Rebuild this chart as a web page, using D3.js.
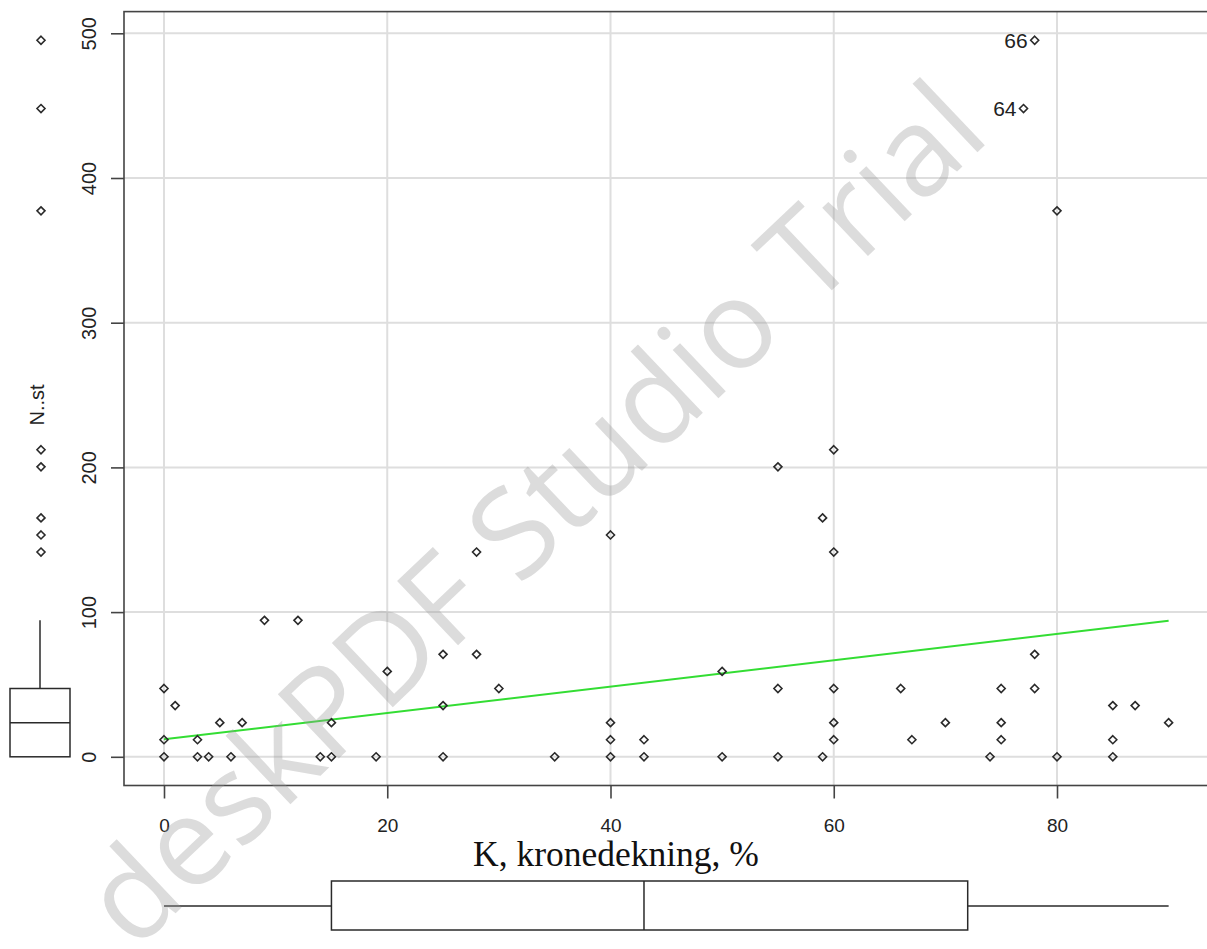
<!DOCTYPE html>
<html>
<head>
<meta charset="utf-8">
<script src="https://cdn.jsdelivr.net/npm/d3@7"></script>
<style>
  html, body { margin: 0; padding: 0; background: #fff; }
  svg { display: block; }
</style>
</head>
<body>
<div id="chart"></div>
<script>
// ---------------- data ----------------
const kronedekning = [0,0,0,1,3,3,4,5,6,7,9,12,14,15,15,19,20,25,25,25,28,28,30,35,40,40,40,40,43,43,50,50,55,55,55,59,59,60,60,60,60,60,66,67,70,74,75,75,75,78,78,78,77,80,80,85,85,85,87,90];
const nst = [47.2,11.8,0,35.4,11.8,0,0,23.6,0,23.6,94.3,94.3,0,23.6,0,0,59.0,70.8,35.4,0,141.5,70.8,47.2,0,153.3,23.6,11.8,0,11.8,0,59.0,0,200.4,47.2,0,165.1,0,212.2,141.5,47.2,23.6,11.8,47.2,11.8,23.6,0,47.2,23.6,11.8,70.8,47.2,495.2,448.0,377.3,0,35.4,11.8,0,35.4,23.6];
const pointIds = [1,2,3,4,5,6,7,8,9,10,11,12,13,14,15,16,17,18,19,20,21,22,23,24,25,26,27,28,29,30,31,32,33,34,35,36,37,38,39,40,41,42,43,44,45,46,47,48,49,50,51,66,64,53,54,55,56,57,58,59];
const labelledIds = [66, 64];
const fitCoef = [12.1, 0.91];          // intercept, slope of regression line
const fitRange = [0, 90];
const nstBox = [0, 0, 23.6, 47.2, 94.3]; // min, Q1, median, Q3, upper whisker
const kBox = [0, 15, 43, 72, 90];        // min, Q1, median, Q3, max
const xTicks = [0, 20, 40, 60, 80];
const yTicks = [0, 100, 200, 300, 400, 500];
const xTitle = "K, kronedekning, %";
const yTitle = "N..st";
const watermark = "deskPDF Studio Trial";

// ---------------- layout ----------------
const W = 1207, H = 949;
const svg = d3.select("#chart").append("svg").attr("width", W).attr("height", H)
  .style("font-family", "'Liberation Sans', Arial, sans-serif");
svg.append("rect").attr("width", W).attr("height", H).attr("fill", "#fff");

const x = d3.scaleLinear().domain([0, 80]).range([164, 1057]);
const y = d3.scaleLinear().domain([0, 500]).range([756.8, 33.3]);
const xLo = x.invert(124), xHi = x.invert(1209);
const yLo = y.invert(785.5), yHi = y.invert(11.6);

const ink = "#2a2a2a";

// grid
const grid = svg.append("g");
grid.selectAll("line.v").data(xTicks).join("line")
  .attr("x1", d => x(d)).attr("x2", d => x(d)).attr("y1", y(yHi)).attr("y2", y(yLo))
  .attr("stroke", "#dedede").attr("stroke-width", 2);
grid.selectAll("line.h").data(yTicks).join("line")
  .attr("x1", x(xLo)).attr("x2", x(xHi)).attr("y1", d => y(d)).attr("y2", d => y(d))
  .attr("stroke", "#dedede").attr("stroke-width", 2);

// plot frame
svg.append("rect").attr("x", x(xLo)).attr("y", y(yHi))
  .attr("width", x(xHi) - x(xLo)).attr("height", y(yLo) - y(yHi))
  .attr("fill", "none").attr("stroke", "#444").attr("stroke-width", 1.6);

// axes
const xAxis = d3.axisBottom(x).tickValues(xTicks).tickSize(13).tickPadding(20).tickFormat(d3.format("d"));
const gx = svg.append("g").attr("transform", `translate(0,${y(yLo)})`).call(xAxis);
gx.select(".domain").remove();
gx.selectAll(".tick line").attr("stroke", "#444").attr("stroke-width", 1.6);
gx.selectAll(".tick text").attr("fill", "#222").style("font-size", "19px")
  .style("font-family", "'Liberation Sans', Arial, sans-serif");

const yAxis = d3.axisLeft(y).tickValues(yTicks).tickSize(13).tickPadding(0).tickFormat(d3.format("d"));
const gy = svg.append("g").attr("transform", `translate(${x(xLo)},0)`).call(yAxis);
gy.select(".domain").remove();
gy.selectAll(".tick line").attr("stroke", "#444").attr("stroke-width", 1.6);
gy.selectAll(".tick text").attr("fill", "#222").style("font-size", "20px")
  .style("font-family", "'Liberation Sans', Arial, sans-serif")
  .attr("x", 0).attr("dy", null)
  .attr("text-anchor", "middle").attr("dominant-baseline", "central")
  .attr("transform", `translate(${89 - x(xLo)},0) rotate(-90)`);

// regression line
svg.append("line")
  .attr("x1", x(fitRange[0])).attr("y1", y(fitCoef[0] + fitCoef[1] * fitRange[0]))
  .attr("x2", x(fitRange[1])).attr("y2", y(fitCoef[0] + fitCoef[1] * fitRange[1]))
  .attr("stroke", "#33dd33").attr("stroke-width", 2);

// points (diamonds)
const diamond = (cx, cy, r) => `M${cx},${cy - r}L${cx + r},${cy}L${cx},${cy + r}L${cx - r},${cy}Z`;
const pts = kronedekning.map((k, i) => ({ k, n: nst[i], id: pointIds[i] }));
svg.append("g").selectAll("path").data(pts).join("path")
  .attr("d", d => diamond(x(d.k), y(d.n), 4))
  .attr("fill", "none").attr("stroke", ink).attr("stroke-width", 1.6);

// point labels
svg.append("g").selectAll("text").data(pts.filter(d => labelledIds.includes(d.id))).join("text")
  .attr("x", d => x(d.k) - 7).attr("y", d => y(d.n)).attr("dy", "0.35em")
  .attr("text-anchor", "end").attr("fill", "#222").style("font-size", "21px")
  .text(d => d.id);

// y title
svg.append("text").attr("transform", `translate(37,405) rotate(-90)`)
  .attr("text-anchor", "middle").attr("dominant-baseline", "central")
  .attr("fill", "#222").style("font-size", "20px").text(yTitle);

// x title
svg.append("text").attr("x", 616).attr("y", 866)
  .attr("text-anchor", "middle").attr("fill", "#111")
  .style("font-family", "'Liberation Serif', 'Times New Roman', serif").style("font-size", "35.5px")
  .text(xTitle);

// left (vertical) boxplot for nst
const vb = svg.append("g").attr("stroke", ink).attr("stroke-width", 1.5).attr("fill", "none");
const bx0 = 10, bx1 = 70, bxc = 40;
vb.append("rect").attr("x", bx0).attr("y", y(nstBox[3])).attr("width", bx1 - bx0)
  .attr("height", y(nstBox[1]) - y(nstBox[3]));
vb.append("line").attr("x1", bx0).attr("x2", bx1).attr("y1", y(nstBox[2])).attr("y2", y(nstBox[2]));
vb.append("line").attr("x1", bxc).attr("x2", bxc).attr("y1", y(nstBox[3])).attr("y2", y(nstBox[4]));
vb.append("line").attr("x1", bxc).attr("x2", bxc).attr("y1", y(nstBox[1])).attr("y2", y(nstBox[0]));
const outliers = Array.from(new Set(nst.filter(v => v > nstBox[4])));
svg.append("g").selectAll("path").data(outliers).join("path")
  .attr("d", d => diamond(41, y(d), 4))
  .attr("fill", "none").attr("stroke", ink).attr("stroke-width", 1.6);

// bottom (horizontal) boxplot for kronedekning
const hb = svg.append("g").attr("stroke", ink).attr("stroke-width", 1.5).attr("fill", "none");
const by0 = 881, by1 = 930, byc = 906;
hb.append("rect").attr("x", x(kBox[1])).attr("y", by0).attr("width", x(kBox[3]) - x(kBox[1])).attr("height", by1 - by0);
hb.append("line").attr("x1", x(kBox[2])).attr("x2", x(kBox[2])).attr("y1", by0).attr("y2", by1);
hb.append("line").attr("x1", x(kBox[0])).attr("x2", x(kBox[1])).attr("y1", byc).attr("y2", byc);
hb.append("line").attr("x1", x(kBox[3])).attr("x2", x(kBox[4])).attr("y1", byc).attr("y2", byc);

// watermark
svg.append("text")
  .attr("transform", "translate(530,510) rotate(-43.5)")
  .attr("text-anchor", "middle").attr("dominant-baseline", "central")
  .style("font-family", "'Open Sans', 'Noto Sans', sans-serif").style("font-size", "124px")
  .attr("fill", "#9a9a9a").attr("fill-opacity", 0.35)
  .text(watermark);
</script>
</body>
</html>
